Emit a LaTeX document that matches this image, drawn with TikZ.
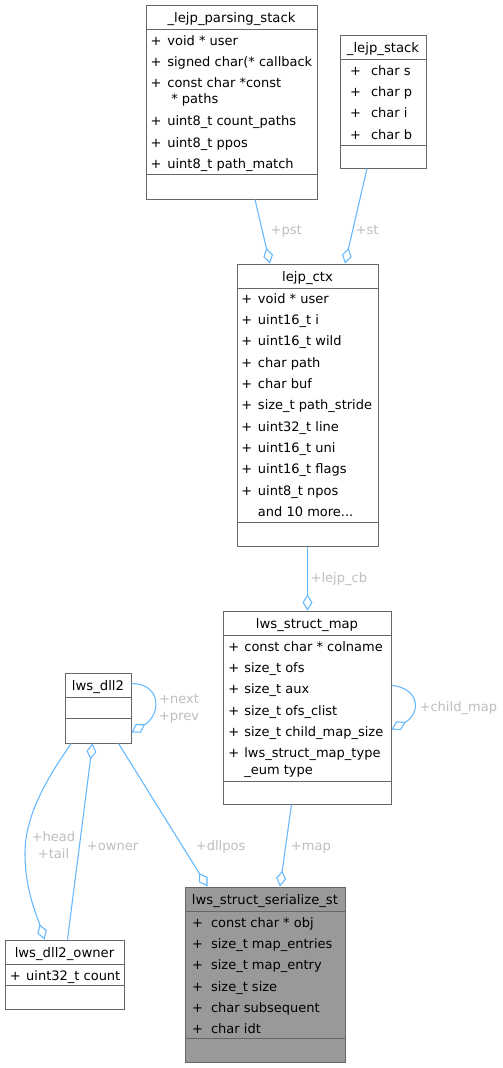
\documentclass[tikz,border=0pt]{standalone}
\usepackage{fontspec}
\setmainfont{DejaVu Sans}
\usetikzlibrary{arrows.meta,calc,fit}
\definecolor{boxgray}{HTML}{666666}
\definecolor{edgeblue}{HTML}{63B8FF}
\definecolor{labelgray}{HTML}{BEBEBE}
\definecolor{focusgray}{HTML}{999999}
\begin{document}
\begin{tikzpicture}[x=0.75pt,y=-0.75pt,
  class box/.style={draw=boxgray,line width=0.75pt,inner sep=0pt,fill=white},
  sep line/.style={draw=boxgray,line width=0.75pt},
  title text/.style={anchor=base,inner sep=0pt,font=\fontsize{9.9}{16}\selectfont},
  member text/.style={anchor=base west,inner sep=0pt,font=\fontsize{9.75}{16}\selectfont},
  agg edge/.style={draw=edgeblue,line width=0.8pt,-{Diamond[open,length=12pt,width=7.5pt]}},
  edge label/.style={anchor=base west,inner sep=0pt,text=labelgray,font=\fontsize{9.8}{12}\selectfont}]

  \useasboundingbox[fill=white] (0,0) rectangle (503,1068);

  % class boxes
  \node[class box,fit={(146,5) (317,199)}] (pst) {};
  \node[class box,fit={(340,35) (426,168)}] (stk) {};
  \node[class box,fit={(237,264) (378,546)}] (ctx) {};
  \node[class box,fit={(223,611) (391,804)}] (map) {};
  \node[class box,fit={(65,673) (131,743)}] (dll2) {};
  \node[class box,fit={(5,940) (124,1009)}] (owner) {};
  \node[class box,fill=focusgray,fit={(185,887) (345,1062)}] (ser) {};

  \draw[sep line] (146,29) -- (317,29) (146,174) -- (317,174);
  \draw[sep line] (340,59) -- (426,59) (340,145) -- (426,145);
  \draw[sep line] (237,288) -- (378,288) (237,522) -- (378,522);
  \draw[sep line] (223,635) -- (391,635) (223,781) -- (391,781);
  \draw[sep line] (65,697) -- (131,697) (65,718) -- (131,718);
  \draw[sep line] (5,964) -- (124,964) (5,985) -- (124,985);
  \draw[sep line] (185,911) -- (345,911) (185,1038) -- (345,1038);

  % titles
  \node[title text] (pst-name) at (231.5,22.5) {\_lejp\_parsing\_stack};
  \node[title text] (stk-name) at (383,52.5) {\_lejp\_stack};
  \node[title text] (ctx-name) at (307.5,281.5) {lejp\_ctx};
  \node[title text] (map-name) at (307,628.5) {lws\_struct\_map};
  \node[title text] (dll2-name) at (98,690.5) {lws\_dll2};
  \node[title text] (owner-name) at (64.5,957.5) {lws\_dll2\_owner};
  \node[title text] (ser-name) at (265,904.5) {lws\_struct\_serialize\_st};

  % members
  \node[member text] (pst-attr) at (150.4,45) {\begin{tabular}[t]{@{}c@{\hspace{4.35pt}}l@{}}
    + & void * user\\
    + & signed char(* callback\\
    + & const char *const\\[-4pt]
      & \hspace{3pt}* paths\\[0.5pt]
    + & uint8\_t count\_paths\\
    + & uint8\_t ppos\\
    + & uint8\_t path\_match
  \end{tabular}};
  \node[member text] (stk-attr) at (349.9,75) {\begin{tabular}[t]{@{}c@{\hspace{7.5pt}}l@{}}
    + & char s\\
    + & char p\\
    + & char i\\
    + & char b
  \end{tabular}};
  \node[member text] (ctx-attr) at (241.1,303) {\begin{tabular}[t]{@{}c@{\hspace{4.3pt}}l@{}}
    + & void * user\\
    + & uint16\_t i\\
    + & uint16\_t wild\\
    + & char path\\
    + & char buf\\
    + & size\_t path\_stride\\
    + & uint32\_t line\\
    + & uint16\_t uni\\
    + & uint16\_t flags\\
    + & uint8\_t npos\\
      & and 10 more...
  \end{tabular}};
  \node[member text] (map-attr) at (228.2,651) {\begin{tabular}[t]{@{}c@{\hspace{3.75pt}}l@{}}
    + & const char * colname\\
    + & size\_t ofs\\
    + & size\_t aux\\
    + & size\_t ofs\_clist\\
    + & size\_t child\_map\_size\\
    + & lws\_struct\_map\_type\\[-3.5pt]
      & \_eum type
  \end{tabular}};
  \node[member text] (owner-attr) at (9.7,980) {\begin{tabular}[t]{@{}c@{\hspace{4pt}}l@{}}
    + & uint32\_t count
  \end{tabular}};
  \node[member text] (ser-attr) at (191.9,927) {\begin{tabular}[t]{@{}c@{\hspace{6pt}}l@{}}
    + & const char * obj\\
    + & size\_t map\_entries\\
    + & size\_t map\_entry\\
    + & size\_t size\\
    + & char subsequent\\
    + & char idt
  \end{tabular}};

  % aggregation edges
  \draw[agg edge] ($(pst.south)+(23.5,0)$) -- ($(ctx.north)+(-37.5,0)$);
  \draw[agg edge] ($(stk.south)+(-16,0)$) -- ($(ctx.north)+(37.5,0)$);
  \draw[agg edge] (ctx.south) -- (ctx.south |- map.north);
  \draw[agg edge] ($(map.north east)+(0,75)$) .. controls +(28,2) and +(30,-16) .. ($(map.north east)+(0,119)$);
  \draw[agg edge] ($(dll2.north east)+(0,11)$) .. controls +(30,0) and +(30,-18) .. ($(dll2.north east)+(0,60)$);
  \draw[agg edge] ($(dll2.south west)+(6.7,0)$) .. controls +(-17,25) and (25,810) .. (25,853)
    .. controls (25,890) and +(-8,-25) .. ($(owner.north west)+(40,0)$);
  \draw[agg edge] ($(owner.north west)+(63,0)$) -- ($(dll2.south west)+(28,0)$);
  \draw[agg edge] ($(dll2.south west)+(54,0)$) -- ($(ser.north west)+(23,0)$);
  \draw[agg edge] ($(map.south west)+(69,0)$) -- ($(ser.north west)+(95.5,0)$);

  % edge labels
  \node[edge label] (pst-lbl) at (270.3,234.3) {+pst};
  \node[edge label] (stk-lbl) at (355.3,234.3) {+st};
  \node[edge label] (cb-lbl) at (310.3,582.3) {+lejp\_cb};
  \node[edge label] (child-lbl) at (419.3,711.3) {+child\_map};
  \node[edge label,anchor=base] (next-lbl) at (179,703.3) {+next};
  \node[edge label,anchor=base] (prev-lbl) at (179,720.3) {+prev};
  \node[edge label,anchor=base] (head-lbl) at (53.5,841) {+head};
  \node[edge label,anchor=base] (tail-lbl) at (53.5,858) {+tail};
  \node[edge label] (owner-lbl) at (86.6,850) {+owner};
  \node[edge label] (dll-lbl) at (195.6,850) {+dllpos};
  \node[edge label] (map-lbl) at (290.6,850) {+map};
\end{tikzpicture}
\end{document}
